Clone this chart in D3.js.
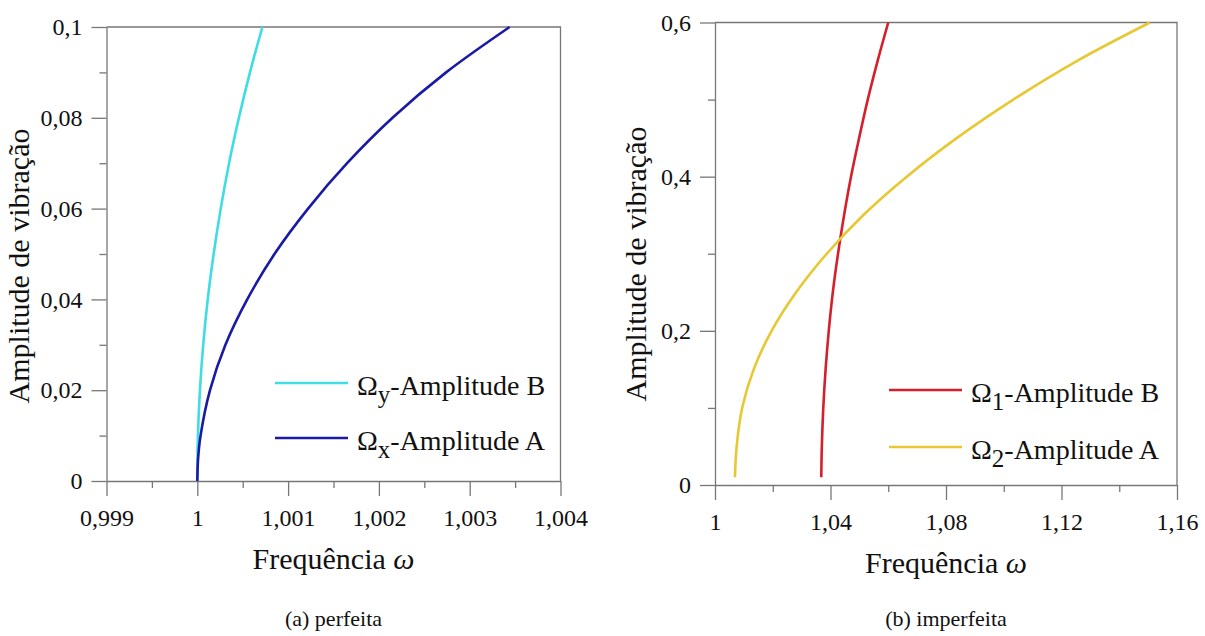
<!DOCTYPE html>
<html>
<head>
<meta charset="utf-8">
<script src="https://cdn.jsdelivr.net/npm/d3@7"></script>
<style>
  body { margin: 0; background: #fff; }
  .axis path, .axis line { stroke: #777; stroke-width: 1.3px; }
</style>
</head>
<body>
<svg id="chart" width="1205" height="636"></svg>
<script>
// panel (a) perfeita : amplitude vs frequency
var omega_y_w = [1.0, 1.000007, 1.000029, 1.000065, 1.000115, 1.00018, 1.000258, 1.00035, 1.000458, 1.00058, 1.000717];
var omega_y_a = [0.0, 0.01, 0.02, 0.03, 0.04, 0.05, 0.06, 0.07, 0.08, 0.09, 0.1];

var omega_x_w = [1.0, 1.000009, 1.000036, 1.00014, 1.00031, 1.00055, 1.00085, 1.00122, 1.00165, 1.00215, 1.00274, 1.00344];
var omega_x_a = [0.0, 0.005, 0.01, 0.02, 0.03, 0.04, 0.05, 0.06, 0.07, 0.08, 0.09, 0.1];

// panel (b) imperfeita
var omega_1_w = [1.0368, 1.0370, 1.0375, 1.0383, 1.0394, 1.0408, 1.0426, 1.0447, 1.0471, 1.0499, 1.0529, 1.0563, 1.0600];
var omega_1_a = [0.01, 0.05, 0.1, 0.15, 0.2, 0.25, 0.3, 0.35, 0.4, 0.45, 0.5, 0.55, 0.6];

var omega_2_w = [1.0069, 1.0075, 1.0094, 1.0134, 1.0196, 1.0281, 1.0387, 1.0513, 1.0664, 1.0837, 1.1033, 1.1253, 1.1506];
var omega_2_a = [0.01, 0.05, 0.1, 0.15, 0.2, 0.25, 0.3, 0.35, 0.4, 0.45, 0.5, 0.55, 0.6];

var ticks_a_x = [0.999, 1, 1.001, 1.002, 1.003, 1.004];
var ticks_a_y = [0, 0.02, 0.04, 0.06, 0.08, 0.1];
var ticks_b_x = [1, 1.04, 1.08, 1.12, 1.16];
var ticks_b_y = [0, 0.2, 0.4, 0.6];

var FONT = "'Liberation Serif', 'Times New Roman', serif";

var svg = d3.select( "#chart" );

function zip( ws, as ){
  return ws.map( function( w, i ){ return [ w, as[ i ] ]; } );
}

var fmt = function( d ){ return String( +d.toFixed( 4 ) ).replace( ".", "," ); };

function drawPanel( opt ){
  var g = svg.append( "g" );
  var x = d3.scaleLinear().domain( opt.xdom ).range( [ opt.left, opt.right ] );
  var y = d3.scaleLinear().domain( opt.ydom ).range( [ opt.bottom, opt.top ] );

  // minor ticks
  g.append( "g" ).attr( "class", "axis" )
    .attr( "transform", "translate(0," + opt.bottom + ")" )
    .call( d3.axisBottom( x ).tickValues( opt.xminor ).tickSize( 7 ).tickFormat( "" ) )
    .select( ".domain" ).remove();
  g.append( "g" ).attr( "class", "axis" )
    .attr( "transform", "translate(" + opt.left + ",0)" )
    .call( d3.axisLeft( y ).tickValues( opt.yminor ).tickSize( 7 ).tickFormat( "" ) )
    .select( ".domain" ).remove();

  // major axes
  var xa = g.append( "g" ).attr( "class", "axis" )
    .attr( "transform", "translate(0," + opt.bottom + ")" )
    .call( d3.axisBottom( x ).tickValues( opt.xticks ).tickSize( 15 ).tickSizeOuter( 0 ).tickPadding( 13 ).tickFormat( fmt ) );
  var ya = g.append( "g" ).attr( "class", "axis" )
    .attr( "transform", "translate(" + opt.left + ",0)" )
    .call( d3.axisLeft( y ).tickValues( opt.yticks ).tickSize( 15 ).tickSizeOuter( 0 ).tickPadding( 9 ).tickFormat( fmt ) );
  [ xa, ya ].forEach( function( a ){
    a.attr( "font-family", FONT ).attr( "font-size", 24 );
    a.selectAll( "text" ).attr( "fill", "#111" );
  } );

  // frame top / right
  g.append( "path" )
    .attr( "d", "M" + opt.left + "," + opt.top + "H" + opt.right + "V" + opt.bottom )
    .attr( "fill", "none" ).attr( "stroke", "#777" ).attr( "stroke-width", 1.3 );

  var line = d3.line()
    .x( function( d ){ return x( d[ 0 ] ); } )
    .y( function( d ){ return y( d[ 1 ] ); } )
    .curve( d3.curveCatmullRom.alpha( 0.5 ) );

  opt.series.forEach( function( s, i ){
    g.append( "path" )
      .datum( s.data )
      .attr( "fill", "none" )
      .attr( "stroke", s.color )
      .attr( "stroke-width", 2.6 )
      .attr( "d", line );

    var ly = opt.legendY[ i ];
    g.append( "line" )
      .attr( "x1", opt.legendX ).attr( "x2", opt.legendX + 73 )
      .attr( "y1", ly ).attr( "y2", ly )
      .attr( "stroke", s.color ).attr( "stroke-width", 2.6 );
    var t = g.append( "text" )
      .attr( "x", opt.legendX + 82 ).attr( "y", ly + 12 )
      .attr( "font-family", FONT )
      .attr( "font-size", 28 ).attr( "fill", "#111" );
    t.append( "tspan" ).text( "\u03A9" );
    t.append( "tspan" ).attr( "dy", 8 ).attr( "font-size", 25 ).text( s.sub );
    t.append( "tspan" ).attr( "dy", -8 ).text( "-Amplitude " + s.name );
  } );

  // axis titles
  var cx = ( opt.left + opt.right ) / 2;
  var xt = g.append( "text" )
    .attr( "x", cx ).attr( "y", opt.bottom + 88 )
    .attr( "font-family", FONT )
    .attr( "text-anchor", "middle" ).attr( "font-size", 30 ).attr( "fill", "#111" );
  xt.append( "tspan" ).text( "Frequência " );
  xt.append( "tspan" ).attr( "font-style", "italic" ).text( "\u03C9" );

  g.append( "text" )
    .attr( "transform", "translate(" + opt.ytitleX + "," + opt.ytitleY + ") rotate(-90)" )
    .attr( "font-family", FONT )
    .attr( "text-anchor", "middle" ).attr( "font-size", 30 ).attr( "fill", "#111" )
    .text( "Amplitude de vibração" );

  g.append( "text" )
    .attr( "x", cx ).attr( "y", 626 )
    .attr( "font-family", FONT )
    .attr( "text-anchor", "middle" ).attr( "font-size", 22 ).attr( "fill", "#111" )
    .text( opt.caption );
}

drawPanel( {
  left: 106.5, right: 560.5, top: 27, bottom: 481,
  xdom: [ 0.999, 1.004 ], ydom: [ 0, 0.1 ],
  xticks: ticks_a_x, yticks: ticks_a_y,
  xminor: [ 0.9995, 1.0005, 1.0015, 1.0025, 1.0035 ],
  yminor: [ 0.01, 0.03, 0.05, 0.07, 0.09 ],
  ytitleX: 29, ytitleY: 266,
  legendX: 275, legendY: [ 383, 438 ],
  caption: "(a) perfeita",
  series: [
    { data: zip( omega_y_w, omega_y_a ), color: "#3fdde3", sub: "y", name: "B" },
    { data: zip( omega_x_w, omega_x_a ), color: "#1a1aa6", sub: "x", name: "A" }
  ]
} );

drawPanel( {
  left: 715, right: 1177, top: 22.5, bottom: 485,
  xdom: [ 1, 1.16 ], ydom: [ 0, 0.6 ],
  xticks: ticks_b_x, yticks: ticks_b_y,
  xminor: [ 1.02, 1.06, 1.10, 1.14 ],
  yminor: [ 0.1, 0.3, 0.5 ],
  ytitleX: 646, ytitleY: 264,
  legendX: 889, legendY: [ 390, 447 ],
  caption: "(b) imperfeita",
  series: [
    { data: zip( omega_1_w, omega_1_a ), color: "#d4202a", sub: "1", name: "B" },
    { data: zip( omega_2_w, omega_2_a ), color: "#e8c832", sub: "2", name: "A" }
  ]
} );
</script>
</body>
</html>
